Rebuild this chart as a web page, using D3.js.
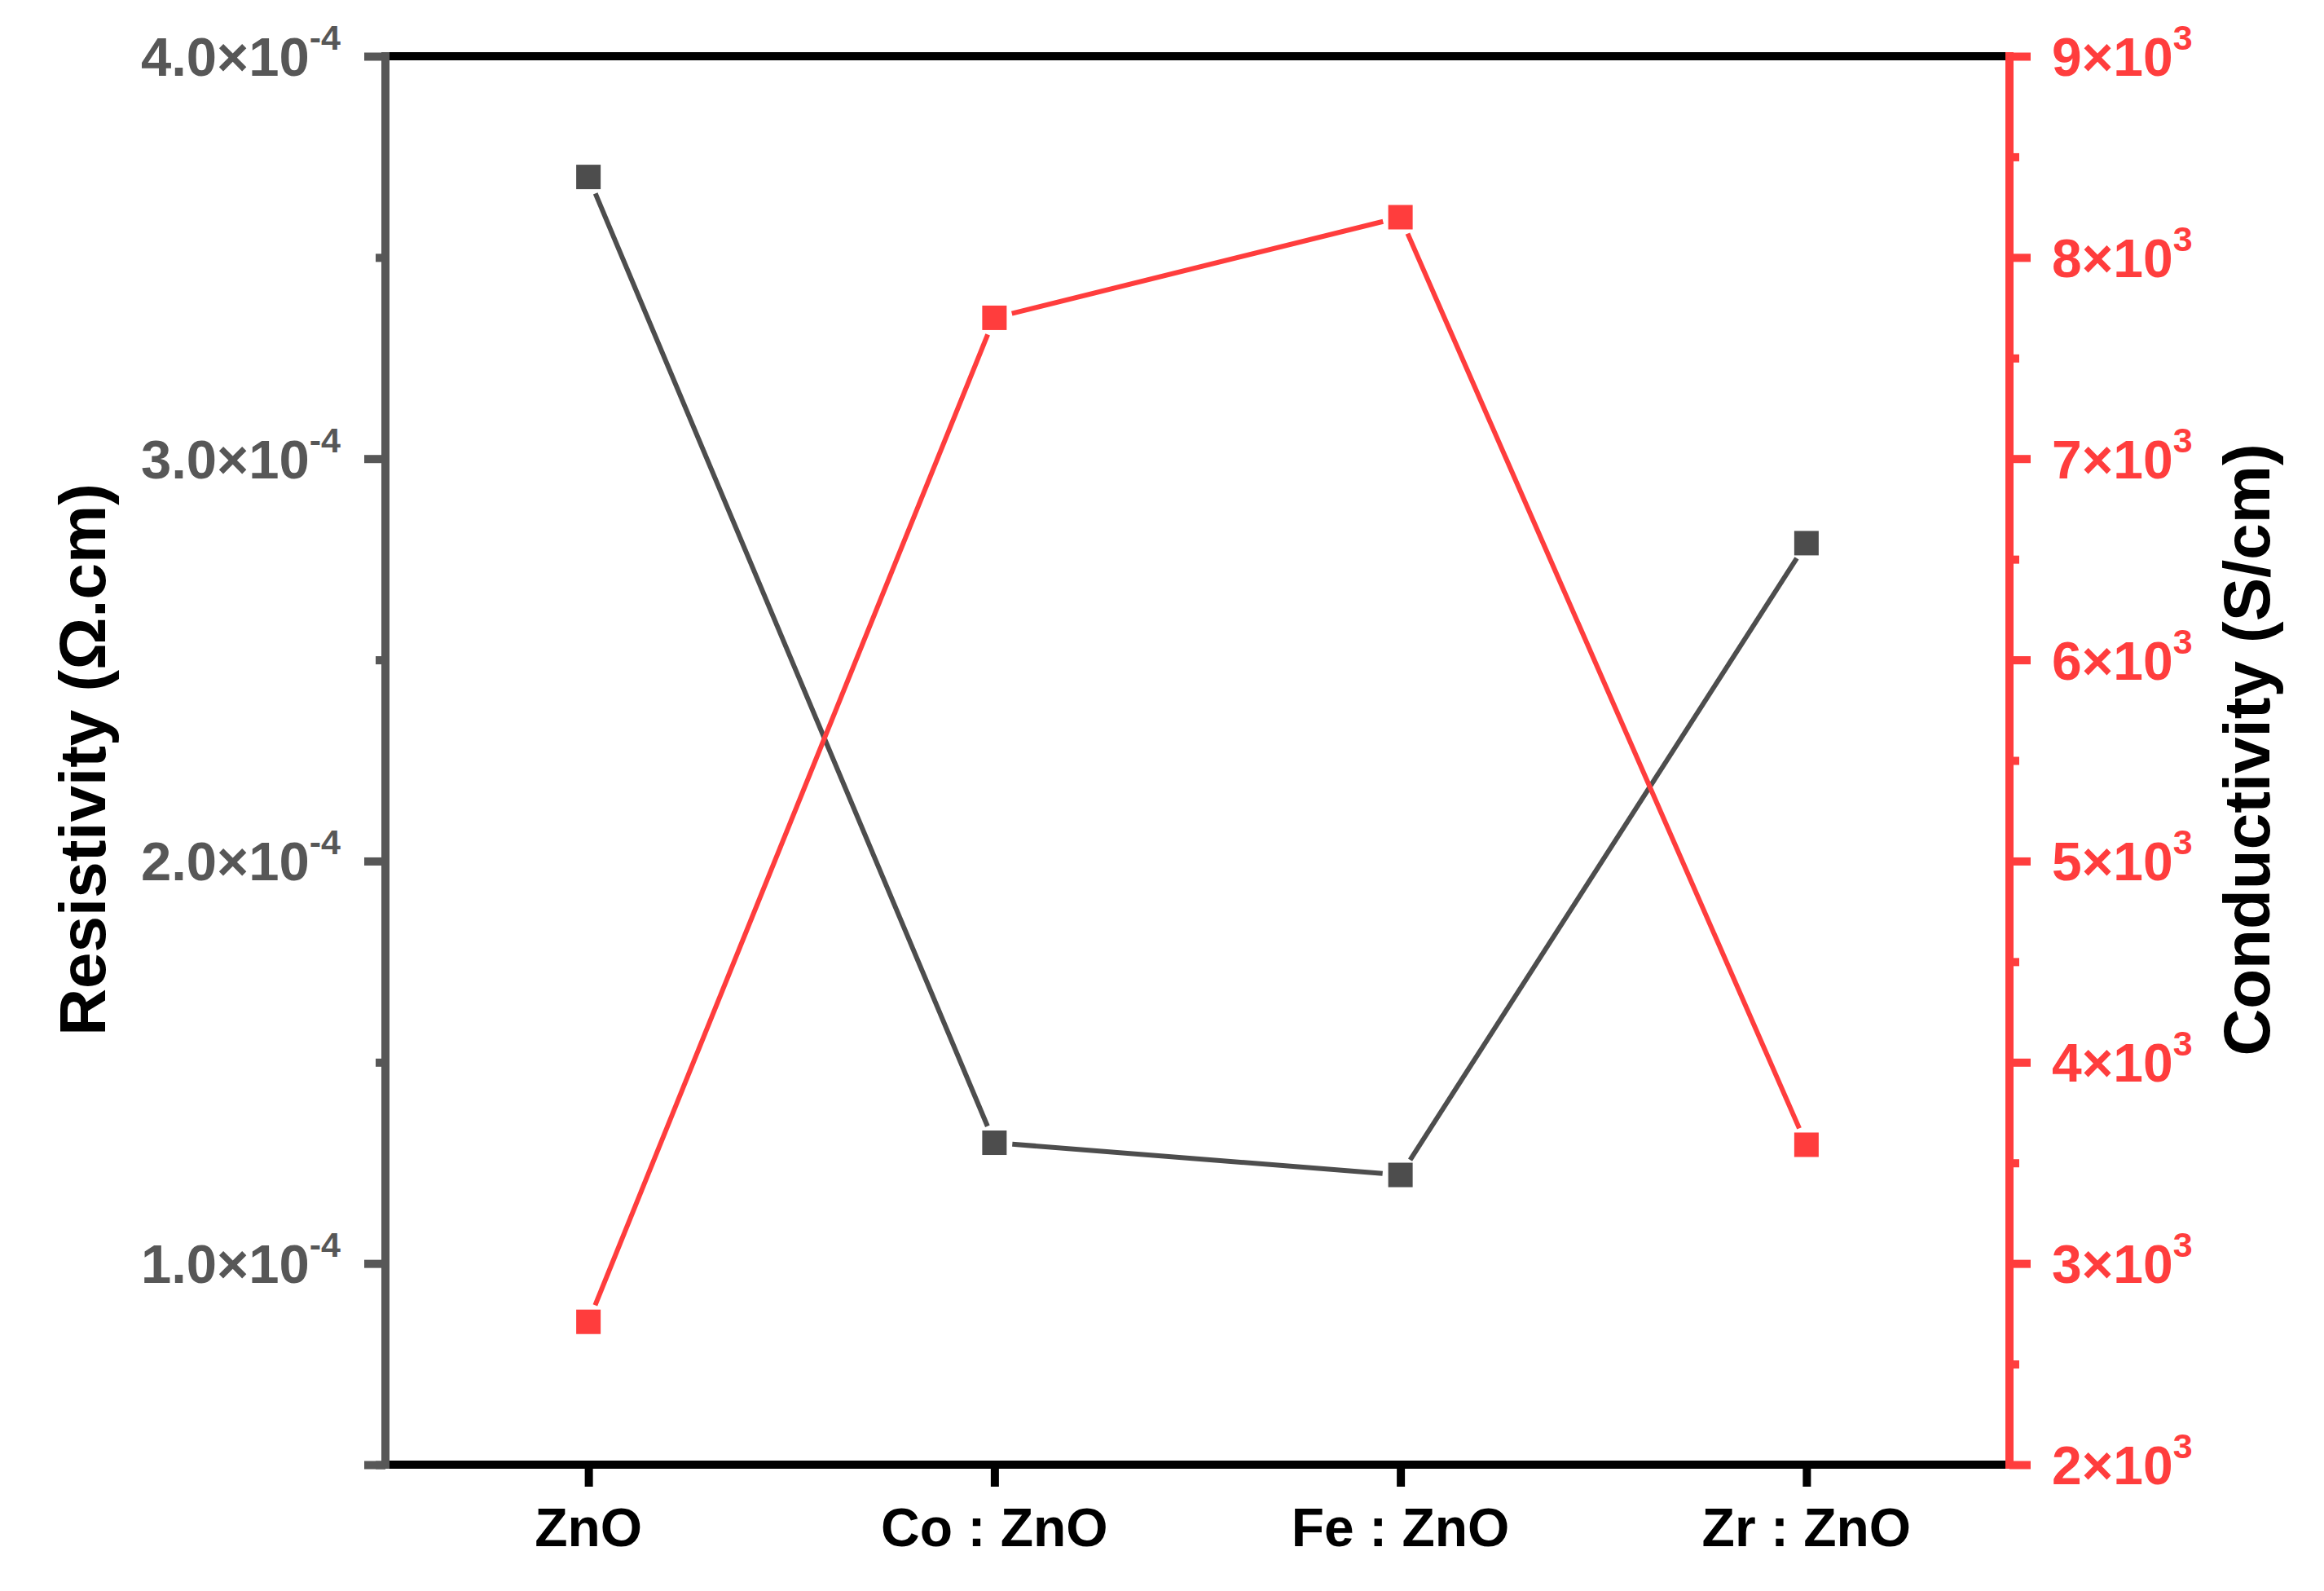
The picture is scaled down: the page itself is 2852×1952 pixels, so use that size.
<!DOCTYPE html>
<html>
<head>
<meta charset="utf-8">
<script src="https://cdn.jsdelivr.net/npm/d3@7"></script>
<style>
  html, body { margin: 0; padding: 0; background: #fff; }
  svg { display: block; }
  text { font-family: "Liberation Sans", Arial, sans-serif; font-weight: bold; }
</style>
</head>
<body>
<svg id="chart" width="2852" height="1952"></svg>
<script>
// data
const categories = ["ZnO", "Co : ZnO", "Fe : ZnO", "Zr : ZnO"];
const resistivity = [3.70e-4, 1.30e-4, 1.22e-4, 2.79e-4];   // Ω.cm
const conductivity = [2710, 7700, 8200, 3590];               // S/cm

// tick values and labels
const leftTicks = [1e-4, 2e-4, 3e-4, 4e-4];
const leftMantissa = ["1.0", "2.0", "3.0", "4.0"];
const leftExponent = "-4";
const leftMinor = [0.5e-4, 1.5e-4, 2.5e-4, 3.5e-4];
const rightTicks = [2000, 3000, 4000, 5000, 6000, 7000, 8000, 9000];
const rightMantissa = ["2", "3", "4", "5", "6", "7", "8", "9"];
const rightExponent = "3";
const rightMinor = [2500, 3500, 4500, 5500, 6500, 7500, 8500];

// colours
const gray = "#575757";
const red = "#ff3d3d";
const black = "#000";

// chart dimensions
const margin = { top: 69, right: 386, bottom: 155, left: 473 };
const width = 2852 - margin.left - margin.right;
const height = 1952 - margin.top - margin.bottom;

// scales
const x = d3.scalePoint()
  .domain(categories)
  .range([0, width])
  .padding(0.5);
const yL = d3.scaleLinear()
  .domain([0.5e-4, 4.0e-4])
  .range([height, 0]);
const yR = d3.scaleLinear()
  .domain([2000, 9000])
  .range([height, 0]);

const svg = d3.select("#chart")
  .append("g")
  .attr("transform", "translate(" + margin.left + "," + margin.top + ")");

// style an axis group
function styleAxis(g, color) {
  g.select(".domain").remove();
  g.selectAll(".tick line")
    .attr("stroke", color)
    .attr("stroke-width", 10);
  g.selectAll(".tick text").remove();
}

// minor ticks
svg.append("g")
  .call(d3.axisLeft(yL).tickValues(leftMinor).tickSize(12).tickSizeOuter(0))
  .call(g => styleAxis(g, gray));
svg.append("g")
  .attr("transform", "translate(" + width + ",0)")
  .call(d3.axisRight(yR).tickValues(rightMinor).tickSize(12).tickSizeOuter(0))
  .call(g => styleAxis(g, red));

// major ticks
svg.append("g")
  .call(d3.axisLeft(yL).tickValues(leftTicks.concat([0.5e-4])).tickSize(26).tickSizeOuter(0))
  .call(g => styleAxis(g, gray));
svg.append("g")
  .attr("transform", "translate(" + width + ",0)")
  .call(d3.axisRight(yR).tickValues(rightTicks).tickSize(26).tickSizeOuter(0))
  .call(g => styleAxis(g, red));
svg.append("g")
  .attr("transform", "translate(0," + height + ")")
  .call(d3.axisBottom(x).tickSize(27).tickSizeOuter(0))
  .call(g => styleAxis(g, black));

// frame lines
svg.append("line")
  .attr("x1", 0).attr("x2", width).attr("y1", 0).attr("y2", 0)
  .attr("stroke", black).attr("stroke-width", 10);
svg.append("line")
  .attr("x1", 0).attr("x2", width).attr("y1", height).attr("y2", height)
  .attr("stroke", black).attr("stroke-width", 10);
svg.append("line")
  .attr("x1", 0).attr("x2", 0).attr("y1", -5).attr("y2", height + 5)
  .attr("stroke", gray).attr("stroke-width", 10);
svg.append("line")
  .attr("x1", width).attr("x2", width).attr("y1", -5).attr("y2", height + 5)
  .attr("stroke", red).attr("stroke-width", 10);

// left tick labels
const lt = svg.append("g").selectAll("text")
  .data(leftTicks)
  .enter()
  .append("text")
  .attr("x", -55)
  .attr("y", d => yL(d) + 24)
  .attr("text-anchor", "end")
  .attr("fill", gray)
  .attr("font-size", 67);
lt.append("tspan").text((d, i) => leftMantissa[i] + "×10");
lt.append("tspan").attr("dy", -32).attr("font-size", 43).text(leftExponent);

// right tick labels
const rt = svg.append("g").selectAll("text")
  .data(rightTicks)
  .enter()
  .append("text")
  .attr("x", 52)
  .attr("y", d => yR(d) + 24)
  .attr("text-anchor", "start")
  .attr("transform", "translate(" + width + ",0)")
  .attr("fill", red)
  .attr("font-size", 66);
rt.append("tspan").text((d, i) => rightMantissa[i] + "×10");
rt.append("tspan").attr("dy", -32).attr("font-size", 43).text(rightExponent);

// bottom labels
svg.append("g").selectAll("text")
  .data(categories)
  .enter()
  .append("text")
  .attr("x", d => x(d))
  .attr("y", height + 100)
  .attr("text-anchor", "middle")
  .attr("fill", black)
  .attr("font-size", 66)
  .text(d => d);

// axis titles
svg.append("text")
  .attr("transform", "translate(" + (100 - margin.left + 29) + "," + (932 - margin.top) + ") rotate(-90)")
  .attr("text-anchor", "middle")
  .attr("font-size", 80)
  .attr("fill", black)
  .text("Resistivity (Ω.cm)");
svg.append("text")
  .attr("transform", "translate(" + (2756 - margin.left + 29) + "," + (920 - margin.top) + ") rotate(-90)")
  .attr("text-anchor", "middle")
  .attr("font-size", 80)
  .attr("fill", black)
  .text("Conductivity (S/cm)");

// draw a series: segments with a small gap around the markers
function series(values, y, color) {
  const pts = values.map((v, i) => [x(categories[i]), y(v)]);
  const gap = 22;
  const segs = d3.pairs(pts);
  svg.append("g").selectAll("line")
    .data(segs)
    .enter()
    .append("line")
    .attr("x1", d => { const L = Math.hypot(d[1][0] - d[0][0], d[1][1] - d[0][1]); return d[0][0] + (d[1][0] - d[0][0]) * gap / L; })
    .attr("y1", d => { const L = Math.hypot(d[1][0] - d[0][0], d[1][1] - d[0][1]); return d[0][1] + (d[1][1] - d[0][1]) * gap / L; })
    .attr("x2", d => { const L = Math.hypot(d[1][0] - d[0][0], d[1][1] - d[0][1]); return d[1][0] - (d[1][0] - d[0][0]) * gap / L; })
    .attr("y2", d => { const L = Math.hypot(d[1][0] - d[0][0], d[1][1] - d[0][1]); return d[1][1] - (d[1][1] - d[0][1]) * gap / L; })
    .attr("stroke", color)
    .attr("stroke-width", 6);
  svg.append("g").selectAll("rect")
    .data(pts)
    .enter()
    .append("rect")
    .attr("x", d => d[0] - 15)
    .attr("y", d => d[1] - 15)
    .attr("width", 30)
    .attr("height", 30)
    .attr("fill", color);
}

series(resistivity, yL, "#4d4d4d");
series(conductivity, yR, red);
</script>
</body>
</html>
